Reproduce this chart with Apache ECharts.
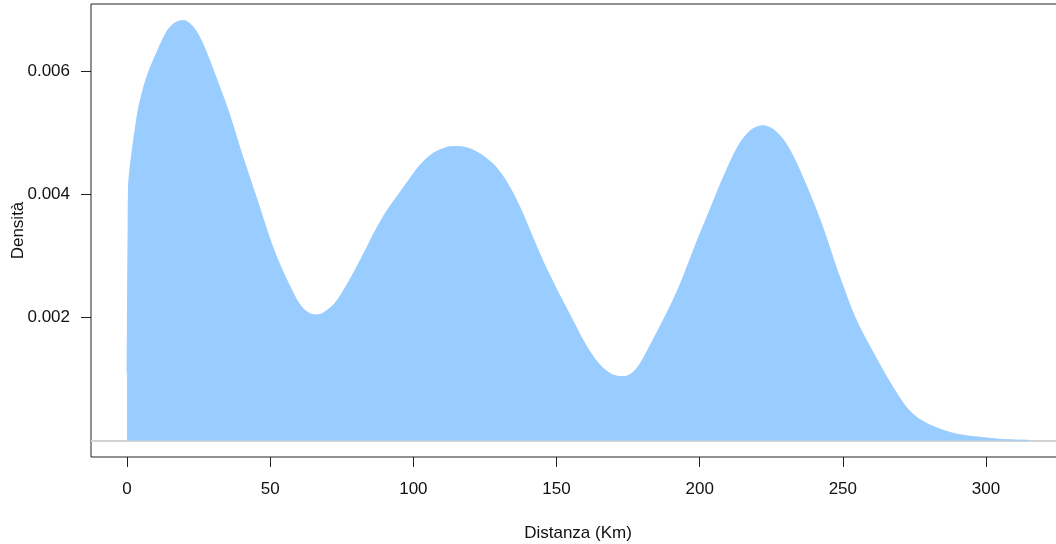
<!DOCTYPE html>
<html>
<head>
<meta charset="utf-8">
<script src="https://cdn.jsdelivr.net/npm/echarts@6/dist/echarts.min.js"></script>
<style>html,body{margin:0;padding:0;background:#fff;}#c{width:1056px;height:544px;}</style>
</head>
<body>
<div id="c"></div>
<script>
// Distance values (Km)
const distanza = [0, 0.35, 0.6, 2, 4, 6, 8, 10, 12, 14, 16, 18, 20, 22, 24, 26, 28, 30, 32, 34, 36, 38, 40,
  42, 44, 46, 48, 50, 52, 54, 56, 58, 60, 62, 64, 66, 68, 70, 72, 74, 76, 78, 80, 82, 84, 86, 88, 90,
  92, 94, 96, 98, 100, 102, 104, 106, 108, 110, 113, 116, 120, 124, 128, 130, 132, 134, 136, 138, 140,
  142, 144, 146, 148, 150, 152, 154, 156, 158, 160, 162, 164, 166, 168, 170, 172, 174, 176, 178, 180,
  182, 184, 186, 188, 190, 192, 194, 196, 198, 200, 202, 204, 206, 208, 210, 212, 214, 216, 218, 220,
  222, 224, 226, 228, 230, 232, 234, 236, 238, 240, 242, 244, 246, 248, 250, 252, 254, 256, 258, 260,
  262, 264, 266, 268, 270, 272, 274, 276, 278, 280, 283, 286, 290, 294, 298, 302, 306, 310, 315];
// Density values
const densita = [0.0011, 0.0033, 0.0042, 0.00478, 0.0054, 0.00578, 0.00605, 0.00627, 0.00648, 0.00666, 0.00677, 0.00682, 0.00683, 0.00678, 0.00667, 0.00650, 0.00628, 0.00604, 0.00579, 0.00554, 0.00527, 0.00497, 0.00467,
  0.00439, 0.00411, 0.00383, 0.00354, 0.00326, 0.00301, 0.00279, 0.00259, 0.00240, 0.00223, 0.00212, 0.00206, 0.00204, 0.00206, 0.00212, 0.00220, 0.00232, 0.00247, 0.00263, 0.00280, 0.00298, 0.00316, 0.00335, 0.00352, 0.00368,
  0.00382, 0.00395, 0.00408, 0.00421, 0.00434, 0.00446, 0.00456, 0.00464, 0.00470, 0.00474, 0.00478, 0.00478, 0.00474, 0.00464, 0.00449, 0.00438, 0.00425, 0.00409, 0.00391, 0.00371, 0.00349,
  0.00327, 0.00305, 0.00284, 0.00265, 0.00246, 0.00228, 0.00210, 0.00192, 0.00174, 0.00157, 0.00142, 0.00129, 0.00119, 0.00111, 0.00106, 0.00104, 0.00104, 0.00108, 0.00117, 0.00131,
  0.00148, 0.00166, 0.00184, 0.00202, 0.00221, 0.00241, 0.00263, 0.00287, 0.00311, 0.00335, 0.00357, 0.00380, 0.00403, 0.00425, 0.00446, 0.00466, 0.00483, 0.00496, 0.00505, 0.00510,
  0.00512, 0.00510, 0.00505, 0.00496, 0.00484, 0.00468, 0.00449, 0.00428, 0.00406, 0.00383, 0.00359, 0.00333, 0.00305, 0.00277, 0.00252, 0.00226, 0.00203, 0.00183, 0.00165, 0.00148,
  0.00131, 0.00114, 0.00098, 0.00083, 0.00068, 0.00055, 0.00045, 0.00037, 0.00031, 0.00026, 0.00020, 0.00015, 0.00010, 0.00007, 0.00005, 0.00003, 0.000015, 0.000007, 0.000002];
const xTicks = [0, 50, 100, 150, 200, 250, 300];
const yTicks = [0.002, 0.004, 0.006];

const pts = distanza.map((x, i) => [x, densita[i]]);
const FONT = 'Liberation Sans, Arial, sans-serif';
const chart = echarts.init(document.getElementById('c'));
chart.setOption({
  animation: false,
  backgroundColor: '#ffffff',
  grid: {
    left: 91, top: 4, width: 974, height: 453,
    show: true, borderColor: '#222', borderWidth: 1, backgroundColor: 'transparent',
    outerBoundsMode: 'none', containLabel: false
  },
  xAxis: {
    type: 'value', min: -12.6, max: 327.6,
    name: 'Distanza (Km)', nameLocation: 'middle', nameGap: 68,
    nameTextStyle: { fontFamily: FONT, fontSize: 17, color: '#111' },
    axisLine: { show: false, onZero: false },
    axisTick: { show: true, inside: false, length: 10, customValues: xTicks, lineStyle: { color: '#222', width: 1 } },
    axisLabel: { customValues: xTicks, margin: 24, fontFamily: FONT, fontSize: 17, color: '#111' },
    splitLine: { show: false }
  },
  yAxis: {
    type: 'value', min: -0.00027, max: 0.0071,
    name: 'Densità', nameLocation: 'middle', nameGap: 64, nameRotate: 90, nameMoveOverlap: false,
    nameTextStyle: { fontFamily: FONT, fontSize: 17, color: '#111' },
    axisLine: { show: false, onZero: false },
    axisTick: { show: true, inside: false, length: 10, customValues: yTicks, lineStyle: { color: '#222', width: 1 } },
    axisLabel: { customValues: yTicks, margin: 21, fontFamily: FONT, fontSize: 17, color: '#111',
      formatter: v => v.toFixed(3) },
    splitLine: { show: false }
  },
  series: [{
    type: 'line',
    data: pts,
    showSymbol: false,
    smooth: 0.25,
    lineStyle: { color: '#99CCFF', width: 1 },
    areaStyle: { color: '#99CCFF', opacity: 1, origin: 0 },
    z: 3,
    markLine: {
      silent: true, symbol: 'none', label: { show: false },
      lineStyle: { color: '#d3d3d3', width: 2, type: 'solid' },
      data: [{ yAxis: 0 }],
      z: 1
    }
  }]
});
</script>
</body>
</html>
